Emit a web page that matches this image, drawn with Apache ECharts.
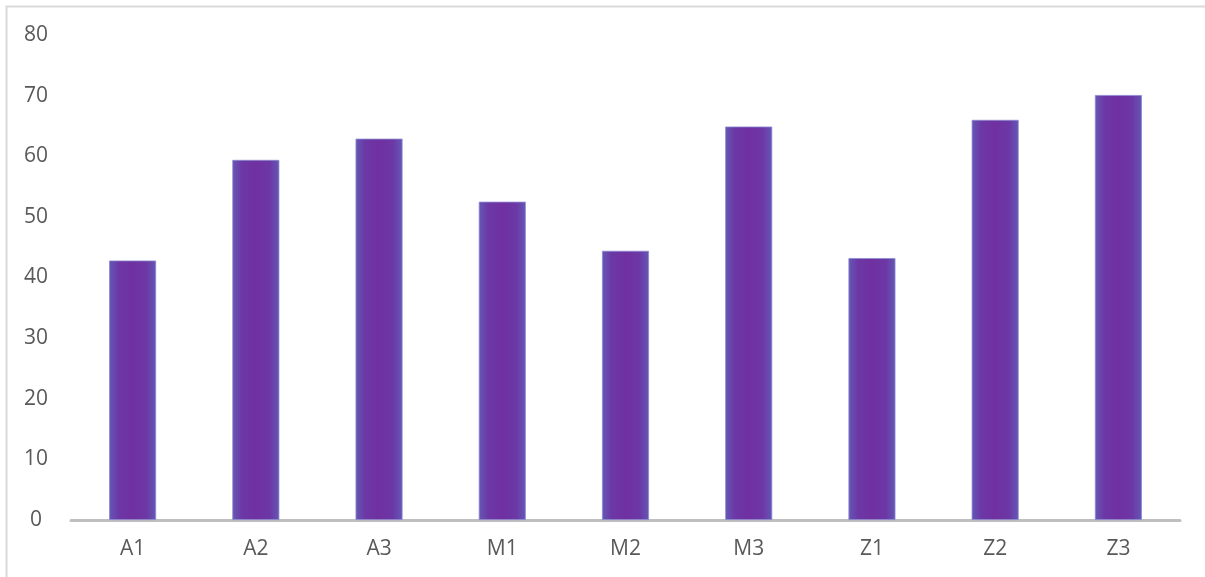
<!DOCTYPE html>
<html>
<head>
<meta charset="utf-8">
<script src="https://cdn.jsdelivr.net/npm/echarts@6/dist/echarts.min.js"></script>
<style>
  html, body { margin: 0; padding: 0; background: #fff; }
  #main { width: 1205px; height: 577px; }
</style>
</head>
<body>
<div id="main"></div>
<script>
// 类别与数值
const categories = ['A1', 'A2', 'A3', 'M1', 'M2', 'M3', 'Z1', 'Z2', 'Z3'];
const values = [42.8, 59.4, 62.9, 52.5, 44.4, 64.9, 43.2, 66.0, 70.1];
const yTicks = [0, 10, 20, 30, 40, 50, 60, 70, 80];

const chart = echarts.init(document.getElementById('main'));

// 柱子：中间紫色，两边偏蓝
const barColor = new echarts.graphic.LinearGradient(0, 0, 1, 0, [
  { offset: 0, color: '#6458b4' },
  { offset: 0.2, color: '#6c38a6' },
  { offset: 0.5, color: '#7030a0' },
  { offset: 0.8, color: '#6c38a6' },
  { offset: 1, color: '#6458b4' }
]);

const option = {
  backgroundColor: '#ffffff',
  animation: false,
  graphic: [{
    type: 'rect',
    shape: { x: 6.5, y: 6.5, width: 1250, height: 650 },
    style: { fill: 'none', stroke: '#d9d9d9', lineWidth: 2 },
    silent: true
  }],
  grid: { left: 71, right: 25, top: 35, bottom: 57 },
  xAxis: {
    type: 'category',
    data: categories,
    axisLine: { lineStyle: { color: '#bfbfbf', width: 3 } },
    axisTick: { show: false },
    axisLabel: {
      color: '#595959',
      fontSize: 21,
      fontFamily: 'Open Sans',
      margin: 19
    }
  },
  yAxis: {
    type: 'value',
    min: yTicks[0],
    max: yTicks[yTicks.length - 1],
    interval: 10,
    splitLine: { show: false },
    axisLine: { show: false },
    axisTick: { show: false },
    axisLabel: {
      color: '#595959',
      fontSize: 21,
      fontFamily: 'Open Sans',
      margin: 35,
      align: 'center'
    }
  },
  series: [{
    type: 'bar',
    data: values,
    barWidth: 47,
    itemStyle: {
      color: barColor,
      borderColor: '#8a8ad0',
      borderWidth: 0.8
    }
  }]
};

chart.setOption(option);
</script>
</body>
</html>
